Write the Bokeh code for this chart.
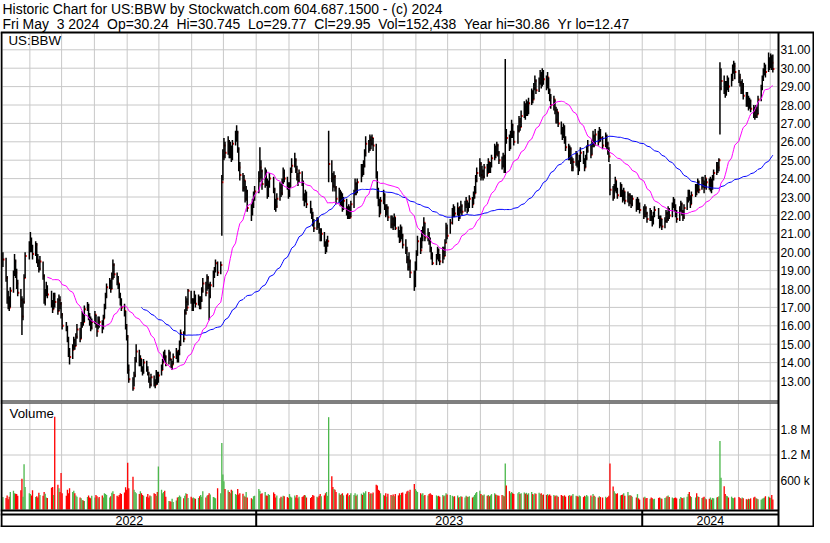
import numpy as np
import pandas as pd
from bokeh.plotting import figure
from bokeh.models import Range1d, ColumnDataSource
from bokeh.core.properties import value
from bokeh.embed import file_html
from bokeh.resources import INLINE

# ---------------- texts ----------------
TITLE_1 = "Historic Chart for US:BBW by Stockwatch.com 604.687.1500 - (c) 2024"
TITLE_2 = ("Fri May\u00a0\u00a03 2024\u00a0\u00a0Op=30.24\u00a0\u00a0Hi=30.745\u00a0\u00a0Lo=29.77"
           "\u00a0\u00a0Cl=29.95\u00a0\u00a0Vol=152,438\u00a0\u00a0Year hi=30.86\u00a0\u00a0Yr lo=12.47")
SYMBOL = "US:BBW"
VOLUME_TITLE = "Volume"
year_labels = ["2022", "2023", "2024"]
year_starts = ["2023-01-01", "2024-01-01"]
price_ticks = [13, 14, 15, 16, 17, 18, 19, 20, 21, 22, 23, 24, 25, 26, 27, 28, 29, 30, 31]
volume_ticks = [600000, 1200000, 1800000]
volume_tick_labels = ["600 k", "1.2 M", "1.8 M"]
holidays = ["2022-05-30", "2022-06-20", "2022-07-04", "2022-09-05", "2022-11-24", "2022-12-26",
            "2023-01-02", "2023-01-16", "2023-02-20", "2023-04-07", "2023-05-29", "2023-06-19",
            "2023-07-04", "2023-09-04", "2023-11-23", "2023-12-25", "2024-01-01", "2024-01-15",
            "2024-02-19", "2024-03-29"]

# ---------------- daily data (one row per month) ----------------
close = [
    19.6, 18.6, 17.5, 17.2, 17.0, 17.9, 18.8, 19.5, 18.9, 18.3, 17.8, 17.4, 16.5, 17.3, 18.6, 19.8, 20.2,
    20.5, 20.3, 19.9, 20.4, 19.6, 19.4, 19.1, 19.5, 18.7, 17.4, 17.8, 18.0, 17.7, 17.2, 16.9, 17.6, 17.3, 16.8, 17.4, 17.2, 16.6,
    16.0, 15.9, 15.3, 14.6, 14.3, 14.7, 15.2, 14.9, 15.4, 15.8, 15.3, 16.0, 16.6, 16.2, 16.9, 17.1, 16.5, 16.3, 15.9, 16.2,
    16.6, 16.0, 15.7, 16.3, 16.2, 15.9, 16.4, 17.0, 17.6, 18.1, 18.4, 18.0, 18.6, 19.3, 18.8, 18.4, 18.3, 17.7, 17.3, 17.0, 16.8, 16.0, 15.4,
    13.6, 13.1, 12.6, 13.3, 14.1, 14.6, 13.9, 14.2, 13.7, 13.5, 14.0, 13.6, 13.4, 13.1, 12.8, 13.2, 12.9, 12.8, 13.4, 13.0, 13.3,
    13.6, 14.0, 14.4, 14.3, 13.9, 14.5, 14.2, 13.8, 13.9, 14.3, 14.6, 14.1, 14.5, 15.0, 15.6, 15.3, 16.7, 17.3, 17.0, 17.9, 17.4,
    16.9, 17.3, 17.6, 17.2, 17.5, 17.0, 17.4, 17.9, 18.3, 17.8, 18.6, 18.2, 17.6, 18.2, 18.8, 19.0, 19.4, 18.9, 19.3, 23.8, 25.2,
    25.8, 25.4, 26.0, 25.3, 25.7, 25.1, 25.9, 26.3, 26.5, 25.6, 24.6, 24.2, 23.5, 23.9, 22.9, 23.3, 22.4, 22.1, 22.6, 23.0, 23.3,
    24.0, 24.6, 24.4, 23.7, 24.3, 23.9, 23.2, 23.6, 24.0, 23.4, 22.6, 22.5, 22.9, 23.5, 23.2, 23.8, 24.3, 24.0, 23.7, 23.1,
    23.6, 24.4, 24.7, 25.0, 24.5, 24.1, 23.9, 24.3, 23.8, 23.0, 22.8, 23.2, 22.6, 22.3, 22.0, 21.6, 21.3, 21.7, 21.5,
    21.2, 20.8, 21.0, 20.5, 20.2, 20.4, 20.6, 24.8, 24.0, 23.6, 24.1, 23.5, 22.9, 23.3, 22.7, 23.1, 22.5, 22.8, 22.3, 21.9, 22.4, 21.9, 22.6,
    23.2, 23.7, 23.3, 23.8, 24.6, 24.3, 24.7, 25.4, 25.9, 25.6, 26.1, 25.9, 26.2, 25.8, 24.3, 23.3, 22.8, 22.1, 22.8,
    23.1, 22.5, 22.2, 22.4, 21.9, 21.5, 21.8, 21.5, 21.9, 21.3, 21.0, 20.6, 21.3, 20.9, 20.4, 20.1, 19.6, 19.2, 19.5, 18.9, 18.2, 19.2,
    19.9, 20.6, 20.1, 20.9, 21.1, 21.6, 20.8, 21.0, 20.6, 20.2, 19.8, 19.4, 19.7, 20.1, 19.7, 19.5, 20.0, 19.8, 20.5, 21.3, 20.9,
    21.6, 22.0, 22.3, 22.1, 22.4, 21.9, 22.3, 22.5, 22.2, 22.6, 22.8, 22.3, 22.5, 22.9, 22.6, 23.0, 23.2, 23.9, 24.3, 24.8,
    24.2, 24.4, 24.1, 24.6, 24.3, 24.9, 24.4, 24.7, 25.1, 25.6, 25.3, 25.8, 25.4, 25.0, 24.7, 25.2, 24.5, 26.4, 26.2, 25.7, 26.4, 26.9, 26.5,
    26.0, 26.6, 27.1, 26.8, 27.4, 27.9, 27.5, 28.0, 27.6, 28.1, 28.6, 28.3, 28.9, 29.3, 28.8, 29.2, 29.6, 29.2, 29.7, 29.4,
    29.0, 29.5, 28.8, 28.4, 28.0, 28.3, 27.7, 27.2, 27.6, 27.0, 26.6, 26.3, 26.8, 26.1, 25.7, 25.2, 25.6, 25.0, 24.6, 24.9, 25.3, 24.8,
    24.5, 25.0, 25.4, 25.0, 24.6, 25.1, 25.5, 25.8, 25.3, 25.9, 26.3, 25.9, 26.4, 26.0, 26.5, 26.2, 25.8, 26.3, 25.9, 25.5, 25.2,
    23.4, 23.0, 23.5, 23.9, 23.4, 23.1, 23.6, 23.2, 22.9, 23.3, 22.8, 23.1, 22.7, 23.0, 22.6, 22.9, 22.4, 22.8, 22.5, 22.3,
    22.0, 22.4, 22.1, 21.8, 22.2, 21.9, 21.6, 22.0, 22.3, 21.9, 21.5, 21.8, 21.4, 21.7, 22.1, 21.8, 22.3, 22.0, 22.5, 22.8, 22.4,
    22.1, 21.8, 22.3, 22.6, 22.2, 21.9, 22.4, 22.8, 23.2, 23.0, 22.6, 23.1, 23.5, 23.3, 23.8, 23.4, 23.9, 23.7, 23.5, 24.0,
    23.8, 23.6, 23.9, 23.5, 24.1, 24.3, 24.7, 24.6, 25.0, 28.9, 29.3, 29.0, 28.6, 28.9, 29.3, 29.0, 29.4, 29.9, 30.1, 29.8,
    29.5, 29.2, 28.8, 29.0, 28.5, 28.1, 28.4, 27.9, 28.2, 27.8, 27.6, 27.4, 27.7, 27.5, 28.3, 28.9, 29.4, 29.7, 30.0, 29.8, 30.4, 30.2,
    30.6, 30.3, 29.95,
]
high = [
    20.0, 19.7, 18.7, 17.9, 17.6, 18.1, 19.0, 19.9, 19.6, 19.1, 18.5, 18.0, 17.6, 17.5, 18.8, 20.0, 20.6,
    21.1, 20.8, 20.4, 20.6, 20.5, 19.9, 19.6, 19.8, 19.5, 18.8, 18.0, 18.4, 18.2, 17.9, 17.4, 17.8, 17.8, 17.5, 17.7, 17.6, 17.3,
    16.7, 16.2, 16.0, 15.4, 14.8, 15.0, 15.4, 15.3, 15.6, 16.1, 15.9, 16.2, 16.8, 16.7, 17.1, 17.3, 17.2, 16.7, 16.5, 16.4,
    16.8, 16.6, 16.1, 16.5, 16.5, 16.3, 16.6, 17.2, 17.8, 18.3, 18.6, 18.5, 18.9, 19.6, 19.4, 18.9, 18.7, 18.3, 17.8, 17.5, 17.2, 16.8, 16.1,
    15.5, 13.9, 13.2, 13.5, 14.3, 15.0, 14.7, 14.4, 14.2, 13.8, 14.2, 14.1, 13.8, 13.5, 13.2, 13.4, 13.3, 13.1, 13.6, 13.5, 13.5,
    13.9, 14.2, 14.6, 14.7, 14.4, 14.7, 14.6, 14.2, 14.1, 14.5, 14.8, 14.6, 14.7, 15.2, 15.8, 15.7, 16.9, 17.6, 17.5, 18.0, 17.9,
    17.5, 17.5, 17.9, 17.7, 17.7, 17.6, 17.6, 18.1, 18.6, 18.4, 18.8, 18.7, 18.3, 18.4, 19.0, 19.2, 19.6, 19.5, 19.5, 24.2, 25.6,
    26.2, 26.0, 26.3, 26.1, 26.0, 25.8, 26.1, 26.6, 26.9, 26.6, 25.7, 24.9, 24.3, 24.2, 23.9, 23.6, 23.4, 22.6, 22.9, 23.3, 23.6,
    24.4, 25.7, 25.0, 24.5, 24.6, 24.5, 24.0, 23.9, 24.3, 24.1, 23.5, 22.9, 23.2, 23.8, 23.7, 24.0, 24.6, 24.5, 24.1, 23.8,
    23.8, 24.6, 25.1, 25.4, 25.1, 24.7, 24.3, 24.5, 24.4, 23.9, 23.2, 23.4, 23.3, 22.8, 22.4, 22.2, 21.8, 21.9, 21.9,
    21.6, 21.3, 21.3, 21.1, 20.6, 20.7, 20.9, 26.6, 25.0, 24.3, 24.4, 24.2, 23.6, 23.5, 23.4, 23.3, 23.2, 23.0, 22.9, 22.5, 22.6, 22.5, 22.8,
    23.4, 24.0, 23.8, 24.0, 24.8, 24.8, 25.0, 25.6, 26.3, 26.1, 26.4, 26.3, 26.4, 26.2, 25.9, 24.4, 23.5, 22.9, 23.0,
    23.4, 23.2, 22.6, 22.6, 22.5, 22.0, 22.0, 21.9, 22.1, 21.9, 21.4, 21.2, 21.5, 21.4, 21.0, 20.7, 20.3, 19.8, 20.0, 19.6, 19.0, 19.5,
    20.1, 20.9, 20.8, 21.2, 21.4, 21.9, 21.6, 21.3, 21.1, 20.8, 20.3, 20.0, 19.9, 20.3, 20.2, 19.9, 20.3, 20.3, 20.7, 21.6, 21.5,
    21.8, 22.4, 22.6, 22.5, 22.7, 22.4, 22.5, 22.8, 22.6, 22.8, 23.0, 22.8, 22.7, 23.1, 23.0, 23.3, 23.6, 24.2, 24.6, 25.1,
    24.9, 24.7, 24.5, 24.8, 24.8, 25.1, 24.9, 24.9, 25.3, 25.9, 25.8, 26.0, 25.9, 25.5, 25.2, 25.4, 25.3, 30.5, 26.7, 26.4, 26.6, 27.2, 27.0,
    26.6, 26.9, 27.4, 27.3, 27.7, 28.2, 28.1, 28.3, 28.2, 28.4, 28.9, 28.8, 29.2, 29.6, 29.4, 29.5, 29.9, 29.8, 30.0, 29.9,
    29.6, 29.8, 29.5, 28.9, 28.6, 28.5, 28.3, 27.9, 27.8, 27.6, 27.1, 26.8, 27.0, 26.9, 26.3, 25.9, 25.8, 25.7, 25.2, 25.1, 25.5, 25.4,
    25.0, 25.3, 25.7, 25.5, 25.1, 25.3, 25.8, 26.1, 25.9, 26.1, 26.6, 26.4, 26.7, 26.6, 26.8, 26.7, 26.3, 26.5, 26.4, 26.0, 25.7,
    24.8, 23.6, 23.7, 24.1, 23.9, 23.5, 23.8, 23.7, 23.4, 23.5, 23.3, 23.3, 23.2, 23.2, 23.1, 23.1, 22.9, 23.0, 22.9, 22.7,
    22.5, 22.6, 22.5, 22.2, 22.4, 22.3, 22.0, 22.2, 22.5, 22.4, 22.0, 22.0, 21.8, 21.9, 22.3, 22.2, 22.5, 22.4, 22.7, 23.0, 22.9,
    22.6, 22.3, 22.5, 22.8, 22.7, 22.3, 22.6, 23.0, 23.4, 23.4, 23.1, 23.3, 23.7, 23.7, 24.0, 23.9, 24.1, 24.1, 23.9, 24.2,
    24.0, 24.0, 24.1, 24.0, 24.2, 24.5, 24.9, 24.9, 25.1, 30.33, 30.0, 29.6, 29.3, 29.3, 29.6, 29.5, 29.7, 30.2, 30.4, 30.3,
    29.9, 29.7, 29.3, 29.4, 29.2, 28.7, 28.7, 28.5, 28.4, 28.3, 28.0, 27.9, 28.0, 27.9, 28.5, 29.1, 29.6, 30.0, 30.3, 30.2, 30.86, 30.6,
    30.8, 30.7, 30.745,
]
low = [
    19.2, 18.4, 17.2, 16.9, 16.8, 17.0, 17.8, 18.7, 18.6, 18.0, 17.6, 17.0, 15.5, 16.3, 17.2, 18.6, 19.6,
    20.0, 20.0, 19.6, 19.8, 19.4, 19.2, 18.9, 19.0, 18.5, 17.2, 17.1, 17.6, 17.5, 17.0, 16.7, 16.9, 17.0, 16.6, 16.8, 16.9, 16.4,
    15.8, 15.7, 15.1, 14.3, 13.9, 14.2, 14.7, 14.7, 14.9, 15.3, 15.1, 15.3, 15.9, 16.0, 16.2, 16.8, 16.3, 16.0, 15.7, 15.8,
    16.1, 15.9, 15.4, 15.8, 15.9, 15.6, 15.8, 16.4, 16.9, 17.5, 18.0, 17.8, 18.0, 18.5, 18.6, 18.2, 18.0, 17.5, 17.1, 16.8, 16.5, 15.8, 15.2,
    13.4, 12.9, 12.47, 12.7, 13.2, 14.0, 13.8, 13.8, 13.5, 13.3, 13.4, 13.5, 13.3, 12.9, 12.6, 12.7, 12.7, 12.6, 12.8, 12.8, 12.9,
    13.3, 13.6, 14.0, 14.1, 13.8, 13.9, 14.1, 13.7, 13.6, 13.9, 14.2, 14.0, 14.0, 14.4, 14.9, 15.1, 15.5, 16.6, 16.8, 17.1, 17.2,
    16.8, 16.8, 17.2, 17.0, 17.1, 16.9, 16.9, 17.3, 17.8, 17.6, 17.9, 18.0, 16.3, 17.5, 18.1, 18.6, 18.9, 18.7, 18.8, 20.9, 23.9,
    25.0, 25.1, 25.3, 25.1, 25.1, 24.9, 25.0, 25.8, 26.0, 25.4, 24.4, 23.9, 23.3, 23.3, 22.7, 22.8, 22.2, 21.7, 22.0, 22.4, 22.8,
    23.2, 23.8, 24.0, 23.4, 23.5, 23.6, 22.9, 23.0, 23.5, 23.2, 22.3, 22.2, 22.4, 22.8, 23.0, 23.1, 23.7, 23.8, 23.4, 22.9,
    23.0, 23.5, 24.3, 24.6, 24.3, 23.9, 23.6, 23.8, 23.6, 22.8, 22.5, 22.7, 22.4, 22.1, 21.8, 21.4, 21.1, 21.2, 21.3,
    21.0, 20.6, 20.6, 20.3, 19.9, 20.0, 20.3, 23.8, 23.8, 23.3, 23.5, 23.3, 22.6, 22.7, 22.5, 22.5, 22.2, 22.3, 22.0, 21.8, 21.8, 21.8, 21.9,
    22.4, 23.1, 23.1, 23.2, 23.8, 24.1, 24.2, 24.6, 25.2, 25.4, 25.5, 25.6, 25.8, 25.5, 24.0, 22.9, 22.5, 21.9, 22.1,
    22.6, 22.3, 21.9, 22.0, 21.7, 21.3, 21.3, 21.2, 21.4, 21.2, 20.8, 20.5, 20.6, 20.7, 20.2, 19.9, 19.4, 19.0, 19.0, 18.6, 17.9, 18.1,
    19.0, 19.8, 19.9, 20.2, 20.6, 21.0, 20.6, 20.6, 20.4, 20.0, 19.6, 19.3, 19.3, 19.6, 19.5, 19.3, 19.4, 19.6, 19.8, 20.5, 20.7,
    21.0, 21.5, 21.9, 21.9, 22.0, 21.7, 21.8, 22.1, 22.0, 22.2, 22.4, 22.1, 22.2, 22.4, 22.4, 22.6, 22.9, 23.2, 23.8, 24.1,
    23.9, 24.0, 23.9, 24.0, 24.1, 24.3, 24.3, 24.3, 24.6, 25.0, 25.1, 25.3, 25.2, 24.8, 24.5, 24.6, 24.3, 24.3, 25.9, 25.5, 25.6, 26.2, 26.2,
    25.8, 25.9, 26.5, 26.6, 26.8, 27.3, 27.2, 27.4, 27.4, 27.5, 28.0, 28.1, 28.3, 28.8, 28.6, 28.7, 29.1, 28.9, 29.0, 29.1,
    28.8, 28.9, 28.6, 28.2, 27.8, 27.7, 27.5, 27.0, 27.0, 26.8, 26.4, 26.1, 26.2, 25.9, 25.5, 25.0, 25.0, 24.8, 24.4, 24.4, 24.7, 24.6,
    24.2, 24.4, 24.9, 24.8, 24.4, 24.6, 25.0, 25.4, 25.1, 25.3, 25.7, 25.7, 25.8, 25.8, 26.0, 26.0, 25.6, 25.7, 25.6, 25.3, 24.9,
    23.1, 22.8, 22.9, 23.3, 23.2, 22.9, 23.0, 23.0, 22.7, 22.8, 22.6, 22.7, 22.5, 22.6, 22.4, 22.5, 22.2, 22.3, 22.3, 22.1,
    21.8, 21.9, 21.9, 21.6, 21.7, 21.7, 21.4, 21.5, 21.9, 21.8, 21.3, 21.4, 21.2, 21.3, 21.6, 21.6, 21.7, 21.8, 21.9, 22.4, 22.2,
    21.9, 21.6, 21.7, 22.2, 22.0, 21.7, 21.8, 22.3, 22.7, 22.8, 22.4, 22.6, 23.0, 23.1, 23.3, 23.2, 23.4, 23.5, 23.2, 23.5,
    23.4, 23.4, 23.3, 23.2, 23.4, 23.9, 24.2, 24.3, 24.4, 26.4, 28.8, 28.6, 28.4, 28.5, 28.8, 28.7, 29.0, 29.3, 29.7, 29.4,
    29.2, 29.0, 28.6, 28.6, 28.3, 27.9, 27.9, 27.7, 27.8, 27.6, 27.3, 27.2, 27.3, 27.3, 27.5, 28.2, 28.8, 29.3, 29.6, 29.5, 29.8, 29.9,
    30.0, 29.9, 29.77,
]
volume_k = [
    210, 190, 250, 160, 220, 330, 360, 300, 290, 280, 240, 370, 640, 220, 980, 450, 300,
    280, 250, 370, 210, 230, 200, 310, 260, 240, 330, 290, 200, 190, 430, 450, 260, 2100, 500, 420, 330, 777,
    300, 240, 380, 300, 420, 330, 360, 300, 250, 220, 200, 180, 140, 130, 120, 210, 250, 200, 180, 240,
    200, 260, 230, 180, 210, 250, 200, 300, 280, 260, 200, 230, 310, 350, 280, 240, 220, 260, 300, 280, 320, 444, 380,
    1020, 420, 690, 380, 330, 300, 280, 350, 300, 260, 240, 220, 280, 200, 250, 230, 300, 280, 240, 330, 930,
    380, 300, 330, 360, 220, 120, 110, 100, 170, 95, 130, 200, 210, 250, 220, 180, 240, 300, 280, 190, 220,
    180, 200, 180, 170, 190, 230, 260, 220, 350, 200, 240, 260, 300, 270, 210, 200, 180, 420, 300, 1480, 740,
    580, 400, 370, 330, 300, 380, 360, 280, 260, 400, 270, 300, 290, 240, 220, 330, 200, 180, 160, 230, 240,
    400, 360, 280, 300, 330, 250, 240, 280, 260, 320, 280, 200, 250, 180, 220, 200, 240, 230, 210, 190,
    280, 220, 200, 250, 200, 260, 180, 220, 210, 230, 260, 250, 200, 190, 210, 260, 240, 220, 200,
    240, 280, 230, 250, 300, 330, 240, 2090, 700, 450, 400, 380, 330, 300, 260, 280, 300, 250, 270, 300, 230, 260, 300,
    260, 300, 240, 270, 290, 260, 320, 300, 350, 330, 280, 300, 280, 320, 500, 480, 380, 360, 300,
    260, 240, 300, 220, 290, 260, 240, 270, 230, 280, 250, 300, 260, 310, 320, 290, 340, 360, 330, 380, 520, 400,
    360, 330, 300, 270, 300, 240, 260, 250, 280, 300, 270, 260, 250, 230, 240, 220, 260, 230, 250, 300, 270,
    260, 240, 220, 230, 250, 200, 210, 230, 220, 200, 240, 220, 210, 230, 200, 220, 260, 300, 330, 360,
    280, 260, 250, 270, 240, 260, 230, 250, 280, 300, 270, 260, 250, 240, 260, 250, 230, 1000, 480, 350, 300, 330, 300,
    280, 300, 330, 280, 300, 320, 290, 310, 270, 300, 330, 280, 260, 300, 290, 310, 280, 300, 260, 270,
    260, 280, 250, 270, 240, 260, 230, 250, 240, 220, 260, 240, 230, 250, 220, 240, 260, 230, 250, 280, 240, 230,
    220, 250, 230, 210, 240, 220, 260, 230, 250, 210, 280, 240, 220, 200, 230, 210, 200, 220, 190, 210, 240,
    1000, 460, 350, 300, 280, 300, 250, 260, 270, 300, 240, 330, 250, 260, 240, 220, 200, 280, 180, 150,
    200, 220, 180, 190, 170, 200, 180, 160, 170, 190, 200, 180, 170, 190, 200, 230, 250, 210, 200, 180, 190,
    200, 180, 170, 210, 190, 180, 200, 220, 280, 330, 230, 210, 200, 300, 230, 210, 190, 200, 220, 180,
    160, 170, 200, 150, 190, 180, 200, 210, 230, 1530, 666, 466, 280, 240, 230, 200, 220, 190, 180, 200,
    210, 190, 170, 200, 180, 160, 150, 170, 160, 180, 200, 220, 190, 170, 160, 150, 170, 180, 200, 230, 220, 200,
    190, 260, 152,
]

# ---------------- styles ----------------
FONT = "Liberation Sans"
RED = "#ff0000"
GREEN = "#4cb84c"
GREY = "#a8a8a8"
GRID = "#c8c8c8"
PINK = "#ff00ff"
BLUE = "#0000ff"

# ---------------- canvas geometry (pixels, y downwards) ----------------
CW, CH = 814, 527
FRAME_L, FRAME_R, AXIS_X, RIGHT_X = 2, 777, 778, 813
PRICE_TOP, PRICE_BOT = 33, 400
VOL_TOP, VOL_BOT = 403, 509
FOOT_TOP, FOOT_MID, FOOT_BOT = 510, 514, 526
LABEL_X = 780

# date scale: Jan 1 2023 at px 255.7, 1.0576 px per calendar day
JAN23_PX, PX_PER_DAY = 255.7, 1.0576
ref_day = pd.Timestamp("2023-01-01")
D0 = ref_day - pd.Timedelta(days=JAN23_PX / PX_PER_DAY)
D1 = ref_day + pd.Timedelta(days=(CW - JAN23_PX) / PX_PER_DAY)

# price scale: 31.00 at px 49.3, 18.4 px per dollar
P_REF, P_REF_PX, P_PX = 31.0, 49.3, 18.4
P_HI = P_REF + P_REF_PX / P_PX
P_LO = P_REF - (CH - P_REF_PX) / P_PX

# volume scale: zero at px 505.5, 600k per 25.5 px
V_ZERO_PX, V_PER_PX = 505.5, 600000.0 / 25.5
V_HI = V_ZERO_PX * V_PER_PX
V_LO = -(CH - V_ZERO_PX) * V_PER_PX
V_BASE = -(VOL_BOT - V_ZERO_PX) * V_PER_PX

# ---------------- frame ----------------
n = min(len(close), len(high), len(low), len(volume_k))
dates = pd.bdate_range(end="2024-05-03", periods=n, freq="C", holidays=holidays)
df = pd.DataFrame({"date": dates + pd.Timedelta(hours=12),
                   "close": close[:n], "high": high[:n], "low": low[:n],
                   "vol": np.array(volume_k[:n], dtype=float) * 1000.0})
df["ma30"] = df["close"].rolling(30).mean()
df["ma90"] = df["close"].rolling(90).mean()
chg = df["close"].diff().fillna(1.0)
df["vcolor"] = np.where(chg > 1e-9, GREEN, np.where(chg < -1e-9, RED, GREY))
df["tick_end"] = df["date"] + pd.Timedelta(hours=36)
src = ColumnDataSource(df)

p = figure(width=CW, height=CH, x_range=Range1d(0, CW), y_range=Range1d(CH, 0),
           x_axis_location=None, y_axis_location=None, output_backend="svg",
           toolbar_location=None, min_border=0, outline_line_color=None)
p.grid.visible = False
p.background_fill_color = "white"
p.border_fill_color = "white"
p.extra_x_ranges = {"date": Range1d(start=D0, end=D1)}
p.extra_y_ranges = {"price": Range1d(start=P_LO, end=P_HI), "vol": Range1d(start=V_LO, end=V_HI)}

# header
p.text(x=[2, 2], y=[8.5, 23.5], text=[TITLE_1, TITLE_2], text_font=value(FONT),
       text_font_size="13.95px", text_baseline="middle", text_color="black")

# grid lines
months = pd.date_range("2022-06-01", "2024-05-01", freq="MS")
p.segment(x0=months, y0=[PRICE_TOP] * len(months), x1=months, y1=[PRICE_BOT] * len(months),
          x_range_name="date", line_color=GRID, line_width=1)
p.segment(x0=months, y0=[VOL_TOP] * len(months), x1=months, y1=[VOL_BOT] * len(months),
          x_range_name="date", line_color=GRID, line_width=1)
p.segment(x0=[FRAME_L] * len(price_ticks), y0=price_ticks, x1=[FRAME_R] * len(price_ticks), y1=price_ticks,
          y_range_name="price", line_color=GRID, line_width=1)
p.segment(x0=[FRAME_L] * len(volume_ticks), y0=volume_ticks, x1=[FRAME_R] * len(volume_ticks), y1=volume_ticks,
          y_range_name="vol", line_color=GRID, line_width=1)

# price bars, close ticks and moving averages
p.segment(x0="date", y0="close", x1="tick_end", y1="close", line_color=RED, line_width=2,
          x_range_name="date", y_range_name="price", source=src)
p.segment(x0="date", y0="low", x1="date", y1="high", line_color="black", line_width=1.5,
          x_range_name="date", y_range_name="price", source=src)
p.line(x="date", y="ma90", line_color=BLUE, line_width=1, x_range_name="date", y_range_name="price", source=src)
p.line(x="date", y="ma30", line_color=PINK, line_width=1, x_range_name="date", y_range_name="price", source=src)

# volume bars
p.vbar(x="date", width=pd.Timedelta(hours=30).total_seconds() * 1000, top="vol", bottom=V_BASE,
       fill_color="vcolor", line_color=None, x_range_name="date", y_range_name="vol", source=src)

# axis labels (placed through the price / volume scales)
p.text(x=[LABEL_X] * len(price_ticks), y=price_ticks, text=["%.2f" % t for t in price_ticks],
       y_range_name="price", text_font=value(FONT), text_font_size="12px",
       text_baseline="middle", text_color="black")
p.text(x=[LABEL_X] * len(volume_ticks), y=volume_ticks, text=volume_tick_labels,
       y_range_name="vol", text_font=value(FONT), text_font_size="12px",
       text_baseline="middle", text_color="black")
p.text(x=[8, 9], y=[40, 413], text=[SYMBOL, VOLUME_TITLE], text_font=value(FONT),
       text_font_size="13.3px", text_baseline="middle", text_color="black")

# frame lines
p.segment(x0=[0, 0, 0, 0, 0, 0], y0=[32, 400.5, 402.5, FOOT_TOP, FOOT_MID, FOOT_BOT],
          x1=[CW, AXIS_X, AXIS_X, AXIS_X, AXIS_X, CW], y1=[32, 400.5, 402.5, FOOT_TOP, FOOT_MID, FOOT_BOT],
          line_color="black", line_width=[2, 1, 1, 2, 2, 2])
p.segment(x0=[1, AXIS_X, RIGHT_X], y0=[32, 32, 32], x1=[1, AXIS_X, RIGHT_X], y1=[CH, CH, CH],
          line_color="black", line_width=2)
ys = pd.to_datetime(year_starts)
p.segment(x0=ys, y0=[FOOT_TOP] * len(ys), x1=ys, y1=[CH] * len(ys), x_range_name="date",
          line_color="black", line_width=2)

# year labels centred between separators
left_edge = D0 + pd.Timedelta(days=FRAME_L / PX_PER_DAY)
right_edge = D0 + pd.Timedelta(days=AXIS_X / PX_PER_DAY)
bounds = [left_edge] + list(ys) + [right_edge]
centers = [bounds[i] + (bounds[i + 1] - bounds[i]) / 2 for i in range(len(year_labels))]
p.text(x=centers, y=[520] * len(centers), text=year_labels, x_range_name="date",
       text_align="center", text_baseline="middle", text_font=value(FONT),
       text_font_size="12.5px", text_color="black")

open("out.html", "w").write(file_html(p, INLINE))
